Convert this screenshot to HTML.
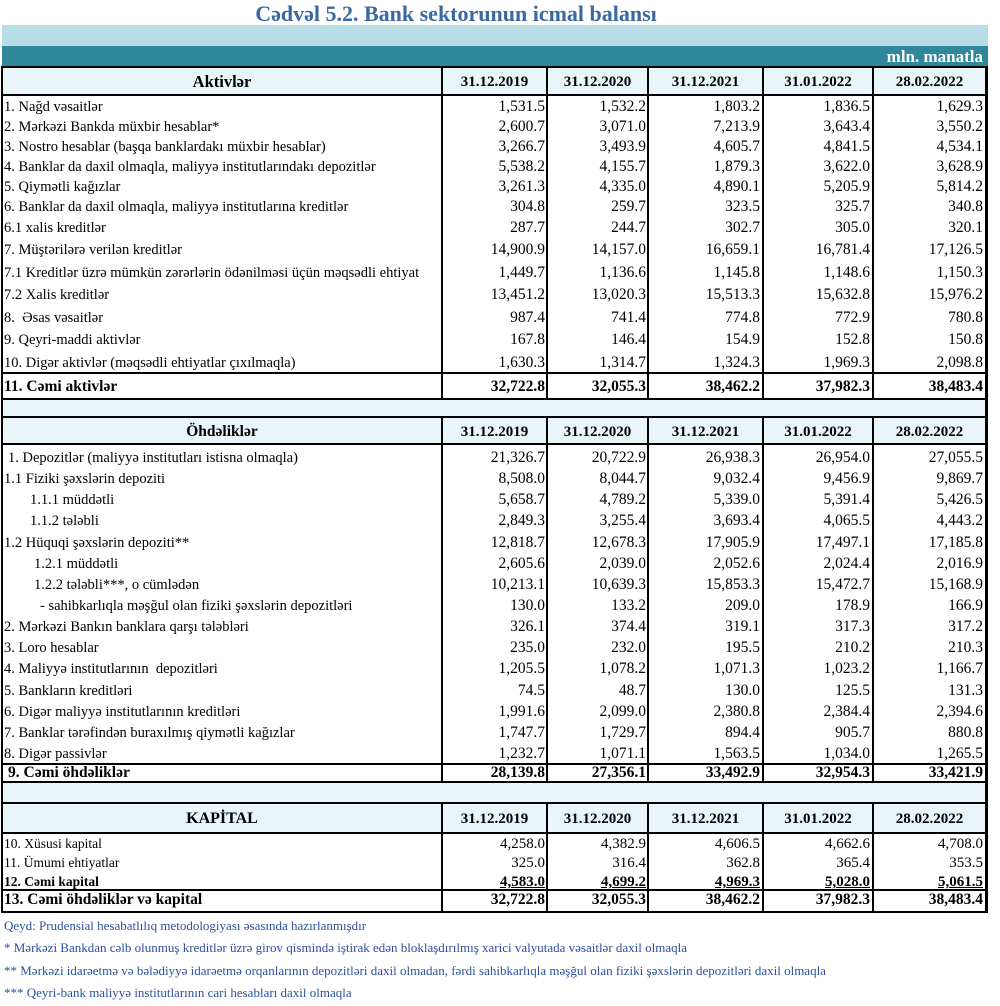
<!DOCTYPE html>
<html><head><meta charset="utf-8">
<style>
body{margin:0;width:1000px;height:1006px;position:relative;background:#fff;font-family:"Liberation Serif",serif;overflow:hidden;color:#000}
.a{position:absolute}
.r{position:absolute;left:0;width:1000px;height:20px;line-height:20px;white-space:nowrap}
.l{position:absolute;left:4px;font-size:14.5px}
.n{position:absolute;font-size:15.5px}
.n1{right:455px}.n2{right:354px}.n3{right:240px}.n4{right:130px}.n5{right:17px}
.b{font-weight:bold}
.h{position:absolute;text-align:center;font-weight:bold;font-size:15px}
.c0{left:3px;width:438px}
.c1{left:443px;width:103px}.c2{left:548px;width:99px}.c3{left:649px;width:113px}.c4{left:764px;width:108px}.c5{left:874px;width:111px}
.k .l{font-size:13.5px}.k .n{font-size:15px}
.hl{position:absolute;left:1px;width:987px;background:#000}
.vl{position:absolute;background:#000;width:2px}
.bg{position:absolute;left:3px;width:982px;background:#E8F5F9}
.fn{position:absolute;left:4px;font-size:13px;color:#2D4F9E;line-height:20px;white-space:nowrap}
</style></head><body>
<div class="a" style="left:0;top:-1px;width:912px;text-align:center;font-size:22px;font-weight:bold;color:#3A68A0;line-height:30px">Cədvəl 5.2. Bank sektorunun icmal balansı</div>
<div class="a" style="left:2px;top:25px;width:986px;height:21px;background:#B7DEE7"></div>
<div class="a" style="left:2px;top:46px;width:986px;height:20px;background:#2F889A"></div>
<div class="a" style="right:17px;top:47px;font-size:17px;font-weight:bold;color:#fff;line-height:20px">mln. manatla</div>

<div class="bg" style="top:68px;height:26px"></div>
<div class="bg" style="top:400px;height:16px"></div>
<div class="bg" style="top:418px;height:25px"></div>
<div class="bg" style="top:783px;height:19px"></div>
<div class="bg" style="top:804px;height:28px"></div>

<div class="hl" style="top:66px;height:2px"></div>
<div class="hl" style="top:94px;height:2px"></div>
<div class="hl" style="top:372px;height:2px"></div>
<div class="hl" style="top:398px;height:2px"></div>
<div class="hl" style="top:416px;height:2px"></div>
<div class="hl" style="top:443px;height:2px"></div>
<div class="hl" style="top:763px;height:2px"></div>
<div class="hl" style="top:781px;height:2px"></div>
<div class="hl" style="top:802px;height:2px"></div>
<div class="hl" style="top:832px;height:2px"></div>
<div class="hl" style="top:889px;height:2px"></div>
<div class="hl" style="top:911px;height:2px"></div>

<div class="vl" style="left:1px;top:66px;height:847px"></div>
<div class="vl" style="left:985px;top:66px;height:847px;width:3px"></div>

<div class="vl" style="left:441px;top:66px;height:334px"></div>
<div class="vl" style="left:546px;top:66px;height:334px"></div>
<div class="vl" style="left:647px;top:66px;height:334px"></div>
<div class="vl" style="left:762px;top:66px;height:334px"></div>
<div class="vl" style="left:872px;top:66px;height:334px"></div>
<div class="vl" style="left:441px;top:416px;height:367px"></div>
<div class="vl" style="left:546px;top:416px;height:367px"></div>
<div class="vl" style="left:647px;top:416px;height:367px"></div>
<div class="vl" style="left:762px;top:416px;height:367px"></div>
<div class="vl" style="left:872px;top:416px;height:367px"></div>
<div class="vl" style="left:441px;top:802px;height:111px"></div>
<div class="vl" style="left:546px;top:802px;height:111px"></div>
<div class="vl" style="left:647px;top:802px;height:111px"></div>
<div class="vl" style="left:762px;top:802px;height:111px"></div>
<div class="vl" style="left:872px;top:802px;height:111px"></div>

<div class="r" style="top:72px"><span class="h c0" style="font-size:16.5px">Aktivlər</span><span class="h c1">31.12.2019</span><span class="h c2">31.12.2020</span><span class="h c3">31.12.2021</span><span class="h c4">31.01.2022</span><span class="h c5">28.02.2022</span></div>

<div class="r" style="top:97px"><span class="l">1. Nağd vəsaitlər</span><span class="n n1">1,531.5</span><span class="n n2">1,532.2</span><span class="n n3">1,803.2</span><span class="n n4">1,836.5</span><span class="n n5">1,629.3</span></div>
<div class="r" style="top:117px"><span class="l">2. Mərkəzi Bankda müxbir hesablar*</span><span class="n n1">2,600.7</span><span class="n n2">3,071.0</span><span class="n n3">7,213.9</span><span class="n n4">3,643.4</span><span class="n n5">3,550.2</span></div>
<div class="r" style="top:137px"><span class="l">3. Nostro hesablar (başqa banklardakı müxbir hesablar)</span><span class="n n1">3,266.7</span><span class="n n2">3,493.9</span><span class="n n3">4,605.7</span><span class="n n4">4,841.5</span><span class="n n5">4,534.1</span></div>
<div class="r" style="top:157px"><span class="l">4. Banklar da daxil olmaqla, maliyyə institutlarındakı depozitlər</span><span class="n n1">5,538.2</span><span class="n n2">4,155.7</span><span class="n n3">1,879.3</span><span class="n n4">3,622.0</span><span class="n n5">3,628.9</span></div>
<div class="r" style="top:177px"><span class="l">5. Qiymətli kağızlar</span><span class="n n1">3,261.3</span><span class="n n2">4,335.0</span><span class="n n3">4,890.1</span><span class="n n4">5,205.9</span><span class="n n5">5,814.2</span></div>
<div class="r" style="top:197px"><span class="l">6. Banklar da daxil olmaqla, maliyyə institutlarına kreditlər</span><span class="n n1">304.8</span><span class="n n2">259.7</span><span class="n n3">323.5</span><span class="n n4">325.7</span><span class="n n5">340.8</span></div>
<div class="r" style="top:218px"><span class="l">6.1 xalis kreditlər</span><span class="n n1">287.7</span><span class="n n2">244.7</span><span class="n n3">302.7</span><span class="n n4">305.0</span><span class="n n5">320.1</span></div>
<div class="r" style="top:240px"><span class="l">7. Müştərilərə verilən kreditlər</span><span class="n n1">14,900.9</span><span class="n n2">14,157.0</span><span class="n n3">16,659.1</span><span class="n n4">16,781.4</span><span class="n n5">17,126.5</span></div>
<div class="r" style="top:263px"><span class="l">7.1 Kreditlər üzrə mümkün zərərlərin ödənilməsi üçün məqsədli ehtiyat</span><span class="n n1">1,449.7</span><span class="n n2">1,136.6</span><span class="n n3">1,145.8</span><span class="n n4">1,148.6</span><span class="n n5">1,150.3</span></div>
<div class="r" style="top:285px"><span class="l">7.2 Xalis kreditlər</span><span class="n n1">13,451.2</span><span class="n n2">13,020.3</span><span class="n n3">15,513.3</span><span class="n n4">15,632.8</span><span class="n n5">15,976.2</span></div>
<div class="r" style="top:308px"><span class="l">8.&nbsp; Əsas vəsaitlər</span><span class="n n1">987.4</span><span class="n n2">741.4</span><span class="n n3">774.8</span><span class="n n4">772.9</span><span class="n n5">780.8</span></div>
<div class="r" style="top:330px"><span class="l">9. Qeyri-maddi aktivlər</span><span class="n n1">167.8</span><span class="n n2">146.4</span><span class="n n3">154.9</span><span class="n n4">152.8</span><span class="n n5">150.8</span></div>
<div class="r" style="top:353px"><span class="l">10. Digər aktivlər (məqsədli ehtiyatlar çıxılmaqla)</span><span class="n n1">1,630.3</span><span class="n n2">1,314.7</span><span class="n n3">1,324.3</span><span class="n n4">1,969.3</span><span class="n n5">2,098.8</span></div>
<div class="r b" style="top:377px"><span class="l" style="font-size:15.5px">11. Cəmi aktivlər</span><span class="n n1">32,722.8</span><span class="n n2">32,055.3</span><span class="n n3">38,462.2</span><span class="n n4">37,982.3</span><span class="n n5">38,483.4</span></div>

<div class="r" style="top:422px"><span class="h c0" style="font-size:15.5px">Öhdəliklər</span><span class="h c1">31.12.2019</span><span class="h c2">31.12.2020</span><span class="h c3">31.12.2021</span><span class="h c4">31.01.2022</span><span class="h c5">28.02.2022</span></div>

<div class="r" style="top:448px"><span class="l" style="left:8px">1. Depozitlər (maliyyə institutları istisna olmaqla)</span><span class="n n1">21,326.7</span><span class="n n2">20,722.9</span><span class="n n3">26,938.3</span><span class="n n4">26,954.0</span><span class="n n5">27,055.5</span></div>
<div class="r" style="top:469px"><span class="l">1.1 Fiziki şəxslərin depoziti</span><span class="n n1">8,508.0</span><span class="n n2">8,044.7</span><span class="n n3">9,032.4</span><span class="n n4">9,456.9</span><span class="n n5">9,869.7</span></div>
<div class="r" style="top:490px"><span class="l" style="left:30px">1.1.1 müddətli</span><span class="n n1">5,658.7</span><span class="n n2">4,789.2</span><span class="n n3">5,339.0</span><span class="n n4">5,391.4</span><span class="n n5">5,426.5</span></div>
<div class="r" style="top:511px"><span class="l" style="left:30px">1.1.2 tələbli</span><span class="n n1">2,849.3</span><span class="n n2">3,255.4</span><span class="n n3">3,693.4</span><span class="n n4">4,065.5</span><span class="n n5">4,443.2</span></div>
<div class="r" style="top:533px"><span class="l">1.2 Hüquqi şəxslərin depoziti**</span><span class="n n1">12,818.7</span><span class="n n2">12,678.3</span><span class="n n3">17,905.9</span><span class="n n4">17,497.1</span><span class="n n5">17,185.8</span></div>
<div class="r" style="top:554px"><span class="l" style="left:34px">1.2.1 müddətli</span><span class="n n1">2,605.6</span><span class="n n2">2,039.0</span><span class="n n3">2,052.6</span><span class="n n4">2,024.4</span><span class="n n5">2,016.9</span></div>
<div class="r" style="top:575px"><span class="l" style="left:34px">1.2.2 tələbli***, o cümlədən</span><span class="n n1">10,213.1</span><span class="n n2">10,639.3</span><span class="n n3">15,853.3</span><span class="n n4">15,472.7</span><span class="n n5">15,168.9</span></div>
<div class="r" style="top:596px"><span class="l" style="left:40px">- sahibkarlıqla məşğul olan fiziki şəxslərin depozitləri</span><span class="n n1">130.0</span><span class="n n2">133.2</span><span class="n n3">209.0</span><span class="n n4">178.9</span><span class="n n5">166.9</span></div>
<div class="r" style="top:617px"><span class="l">2. Mərkəzi Bankın banklara qarşı tələbləri</span><span class="n n1">326.1</span><span class="n n2">374.4</span><span class="n n3">319.1</span><span class="n n4">317.3</span><span class="n n5">317.2</span></div>
<div class="r" style="top:638px"><span class="l">3. Loro hesablar</span><span class="n n1">235.0</span><span class="n n2">232.0</span><span class="n n3">195.5</span><span class="n n4">210.2</span><span class="n n5">210.3</span></div>
<div class="r" style="top:659px"><span class="l">4. Maliyyə institutlarının&nbsp; depozitləri</span><span class="n n1">1,205.5</span><span class="n n2">1,078.2</span><span class="n n3">1,071.3</span><span class="n n4">1,023.2</span><span class="n n5">1,166.7</span></div>
<div class="r" style="top:681px"><span class="l">5. Bankların kreditləri</span><span class="n n1">74.5</span><span class="n n2">48.7</span><span class="n n3">130.0</span><span class="n n4">125.5</span><span class="n n5">131.3</span></div>
<div class="r" style="top:702px"><span class="l">6. Digər maliyyə institutlarının kreditləri</span><span class="n n1">1,991.6</span><span class="n n2">2,099.0</span><span class="n n3">2,380.8</span><span class="n n4">2,384.4</span><span class="n n5">2,394.6</span></div>
<div class="r" style="top:723px"><span class="l">7. Banklar tərəfindən buraxılmış qiymətli kağızlar</span><span class="n n1">1,747.7</span><span class="n n2">1,729.7</span><span class="n n3">894.4</span><span class="n n4">905.7</span><span class="n n5">880.8</span></div>
<div class="r" style="top:744px"><span class="l">8. Digər passivlər</span><span class="n n1">1,232.7</span><span class="n n2">1,071.1</span><span class="n n3">1,563.5</span><span class="n n4">1,034.0</span><span class="n n5">1,265.5</span></div>
<div class="r b" style="top:763px"><span class="l" style="left:8px;font-size:15.5px">9. Cəmi öhdəliklər</span><span class="n n1">28,139.8</span><span class="n n2">27,356.1</span><span class="n n3">33,492.9</span><span class="n n4">32,954.3</span><span class="n n5">33,421.9</span></div>

<div class="r" style="top:809px"><span class="h c0" style="font-size:16px">KAPİTAL</span><span class="h c1">31.12.2019</span><span class="h c2">31.12.2020</span><span class="h c3">31.12.2021</span><span class="h c4">31.01.2022</span><span class="h c5">28.02.2022</span></div>

<div class="r k" style="top:834px"><span class="l">10. Xüsusi kapital</span><span class="n n1">4,258.0</span><span class="n n2">4,382.9</span><span class="n n3">4,606.5</span><span class="n n4">4,662.6</span><span class="n n5">4,708.0</span></div>
<div class="r k" style="top:853px"><span class="l">11. Ümumi ehtiyatlar</span><span class="n n1">325.0</span><span class="n n2">316.4</span><span class="n n3">362.8</span><span class="n n4">365.4</span><span class="n n5">353.5</span></div>
<div class="r k b" style="top:872px"><span class="l">12. Cəmi kapital</span><span class="n n1" style="text-decoration:underline">4,583.0</span><span class="n n2" style="text-decoration:underline">4,699.2</span><span class="n n3" style="text-decoration:underline">4,969.3</span><span class="n n4" style="text-decoration:underline">5,028.0</span><span class="n n5" style="text-decoration:underline">5,061.5</span></div>
<div class="r b" style="top:890px"><span class="l" style="font-size:15.5px">13. Cəmi öhdəliklər və kapital</span><span class="n n1">32,722.8</span><span class="n n2">32,055.3</span><span class="n n3">38,462.2</span><span class="n n4">37,982.3</span><span class="n n5">38,483.4</span></div>

<div class="fn" style="top:916px">Qeyd: Prudensial hesabatlılıq metodologiyası əsasında hazırlanmışdır</div>
<div class="fn" style="top:938px">* Mərkəzi Bankdan cəlb olunmuş kreditlər üzrə girov qismində iştirak edən bloklaşdırılmış xarici valyutada vəsaitlər daxil olmaqla</div>
<div class="fn" style="top:961px">** Mərkəzi idarəetmə və bələdiyyə idarəetmə orqanlarının depozitləri daxil olmadan, fərdi sahibkarlıqla məşğul olan fiziki şəxslərin depozitləri daxil olmaqla</div>
<div class="fn" style="top:983px">*** Qeyri-bank maliyyə institutlarının cari hesabları daxil olmaqla</div>
</body></html>
